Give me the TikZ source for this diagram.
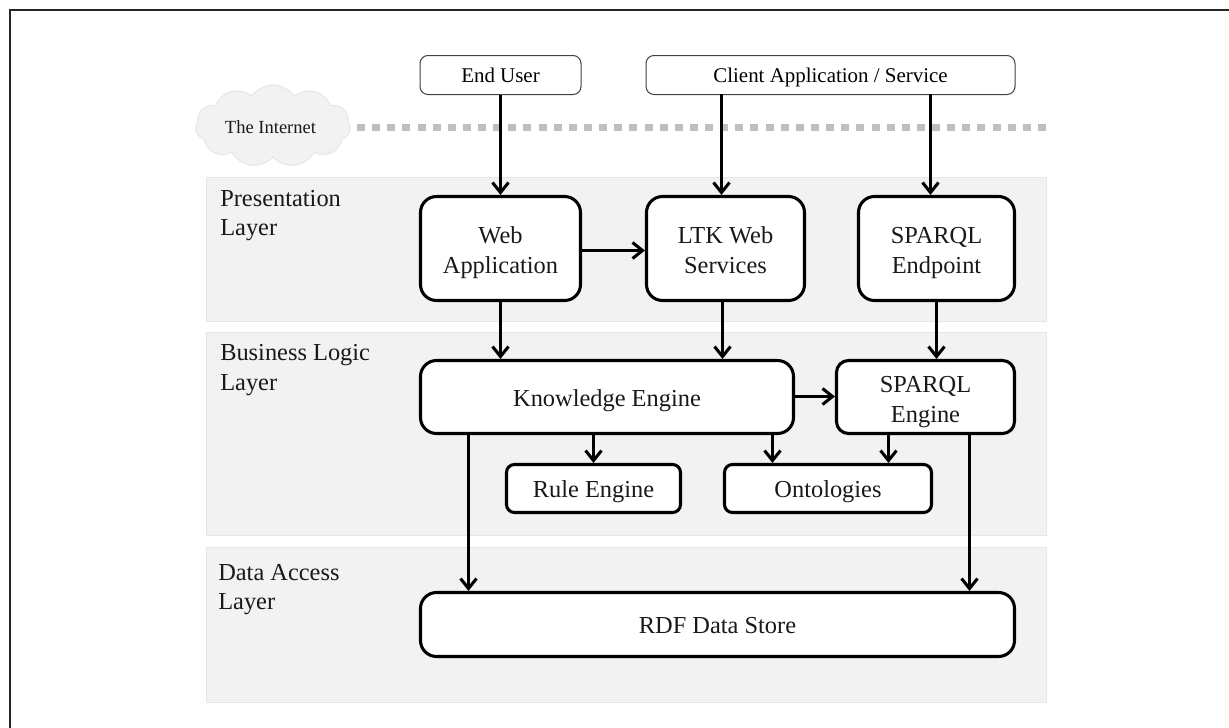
\documentclass[tikz,border=0pt]{standalone}
\usepackage{fontspec}
\setmainfont{Liberation Serif}
\usetikzlibrary{arrows.meta,shapes.symbols}
\definecolor{layergray}{HTML}{F2F2F2}
\definecolor{layeredge}{HTML}{E6E6E6}
\definecolor{dotgray}{HTML}{BFBFBF}
\tikzset{
    layer/.style={draw=layeredge, fill=layergray, line width=0.75pt},
    layertext/.style={anchor=north west, align=left, font=\fontsize{18.3}{22}\selectfont, inner sep=0pt, text=black!90},
    thinbox/.style={draw=black!75, fill=white, line width=0.75pt, rounded corners=6pt, align=center, font=\fontsize{15.7}{19}\selectfont, execute at begin node={\rule{0pt}{14.5pt}}, execute at end node={\rule[-4pt]{0pt}{0pt}}},
    thickbox/.style={draw=black, fill=white, line width=2.3pt, rounded corners=12pt, align=center, font=\fontsize{18.3}{22.5}\selectfont, text=black!90, execute at begin node={\rule{0pt}{18.5pt}}, execute at end node={\rule[-5pt]{0pt}{0pt}}},
    twolines/.style={execute at begin node={\rule{0pt}{42.7pt}}},
    link/.style={line width=2.3pt, -{Straight Barb[length=7.5pt,width=12pt,line width=2.3pt]}}
}
\begin{document}
% coordinates are reference pixels, y counted from the top
\begin{tikzpicture}[x=0.75pt, y=-0.75pt]

\useasboundingbox (0,0) rectangle (1229,728);
\draw[line width=1.5pt, black!85] (9.5,728) -- (9.5,9.5) -- (1229,9.5);

% Layers
\draw[layer] (206.5,177.5) rectangle (1046.5,321.5);
\draw[layer] (206.5,332.5) rectangle (1046.5,535.5);
\draw[layer] (206.5,547.5) rectangle (1046.5,702.5);
\node[layertext] (presentation) at (220,190) {Presentation\\Layer};
\node[layertext] (business) at (220,344.5) {Business Logic\\Layer};
\node[layertext] (dataaccess) at (218,564) {Data Access\\Layer};

% Internet
\draw[line width=5.25pt, dotgray, dash pattern=on 6pt off 5.35pt] (357,127.5) -- (1046,127.5);
\node[cloud, cloud puffs=11, cloud puff arc=110, aspect=2.4, draw=layeredge, fill=layergray, line width=0.75pt, minimum width=155*0.75pt, minimum height=82*0.75pt, inner sep=0pt] (internetcloud) at (273,126) {};
\node[font=\fontsize{13.9}{16}\selectfont, text=black!90] (internet) at (270.5,127) {The Internet};

% Top boxes
\node[thinbox, minimum width=161*0.75pt, minimum height=39*0.75pt] (enduser) at (500.5,75) {End User};
\node[thinbox, minimum width=369*0.75pt, minimum height=39*0.75pt] (client) at (830.5,75) {Client Application / Service};

% Presentation
\node[thickbox, twolines, minimum width=160*0.75pt, minimum height=104*0.75pt] (webapp) at (500.5,248.5) {Web\\Application};
\node[thickbox, twolines, minimum width=158*0.75pt, minimum height=104*0.75pt] (ltkweb) at (725.5,248.5) {LTK Web\\Services};
\node[thickbox, twolines, minimum width=156*0.75pt, minimum height=104*0.75pt] (endpoint) at (936.5,248.5) {SPARQL\\Endpoint};

% Business logic
\node[thickbox, minimum width=373*0.75pt, minimum height=73*0.75pt] (knowledge) at (607,397) {Knowledge Engine};
\node[thickbox, twolines, rounded corners=9pt, minimum width=178*0.75pt, minimum height=73*0.75pt] (sparqlengine) at (925.5,397) {SPARQL\\Engine};
\node[thickbox, rounded corners=6pt, minimum width=174*0.75pt, minimum height=48*0.75pt] (rule) at (593.5,488.5) {Rule Engine};
\node[thickbox, rounded corners=6pt, minimum width=207*0.75pt, minimum height=48*0.75pt] (ontologies) at (828,488.5) {Ontologies};

% Data access
\node[thickbox, minimum width=594*0.75pt, minimum height=64*0.75pt] (store) at (717.5,624.5) {RDF Data Store};

% Links
\draw[link] (enduser.south) -- (webapp.north);
\coordinate (clientltk) at (721.5,94);
\draw[link] (clientltk) -- (clientltk |- ltkweb.north);
\coordinate (clientsparql) at (930.5,94);
\draw[link] (clientsparql) -- (clientsparql |- endpoint.north);
\coordinate (webltk) at (581,250.5);
\draw[link] (webltk) -- (webltk -| ltkweb.west);
\draw[link] (webapp.south) -- (webapp.south |- knowledge.north);
\coordinate (ltkknow) at (722.5,300);
\draw[link] (ltkknow) -- (ltkknow |- knowledge.north);
\draw[link] (endpoint.south) -- (endpoint.south |- sparqlengine.north);
\coordinate (knowsparql) at (793,396.5);
\draw[link] (knowsparql) -- (knowsparql -| sparqlengine.west);
\draw[link] (rule.north |- knowledge.south) -- (rule.north);
\coordinate (kbont) at (772.5,433);
\draw[link] (kbont) -- (kbont |- ontologies.north);
\coordinate (spont) at (888.5,433);
\draw[link] (spont) -- (spont |- ontologies.north);
\coordinate (kbstore) at (468.5,433);
\draw[link] (kbstore) -- (kbstore |- store.north);
\coordinate (spstore) at (969.5,433);
\draw[link] (spstore) -- (spstore |- store.north);

\end{tikzpicture}
\end{document}
